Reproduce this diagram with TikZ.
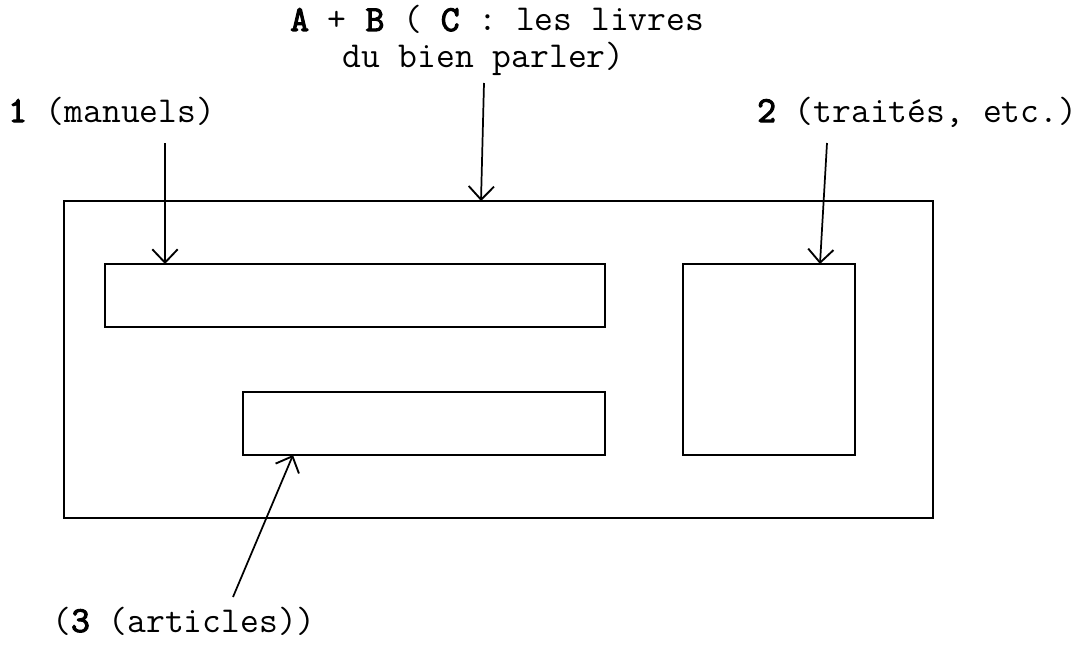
\documentclass[tikz,border=0pt]{standalone}
\usepackage{fontspec}
\newfontfamily\lmtt{lmmono12-regular.otf}
\newfontfamily\lmttbf[FakeBold=3]{lmmono12-regular.otf}
\newcommand{\bfc}[1]{{\lmttbf #1}}
\usetikzlibrary{arrows.meta}
\begin{document}
\begin{tikzpicture}[x=0.75pt,y=-0.75pt,
  boxst/.style={draw,line width=1.4pt,line join=miter},
  arr/.style={line width=1.3pt,-{Straight Barb[length=10pt,width=19pt,line width=1.4pt]}},
  lab/.style={anchor=base west,inner sep=0pt,font=\lmtt\fontsize{27.4}{32}\selectfont}]
\useasboundingbox (0,0) rectangle (1083,646);
% boxes
\draw[boxst] (64,201) rectangle (933,518);
\coordinate (outerTop) at (481,201);
\draw[boxst] (105,264) rectangle (605,327);
\coordinate (b1Top) at (165,264);
\draw[boxst] (243,392) rectangle (605,455);
\coordinate (b3Bot) at (293,455);
\draw[boxst] (683,264) rectangle (855,455);
\coordinate (b2Top) at (820,264);
% labels
\node[lab] (topA) at (290,31) {\bfc{A} + \bfc{B} ( \bfc{C} : les livres};
\node[lab] (topB) at (342,67) {du bien parler)};
\node[lab] (l1) at (8,122) {\bfc{1} (manuels)};
\node[lab] (l2) at (757,122) {\bfc{2} (traités, etc.)};
\node[lab] (l3) at (52,632) {(\bfc{3} (articles))};
% arrow starts
\coordinate (sTop) at (484,83);
\coordinate (s1) at (165,143);
\coordinate (s2) at (827,143);
\coordinate (s3) at (233,597);
% arrows
\draw[arr] (sTop) -- (outerTop);
\draw[arr] (s1) -- (b1Top);
\draw[arr] (s2) -- (b2Top);
\draw[arr] (s3) -- (b3Bot);
\end{tikzpicture}
\end{document}
